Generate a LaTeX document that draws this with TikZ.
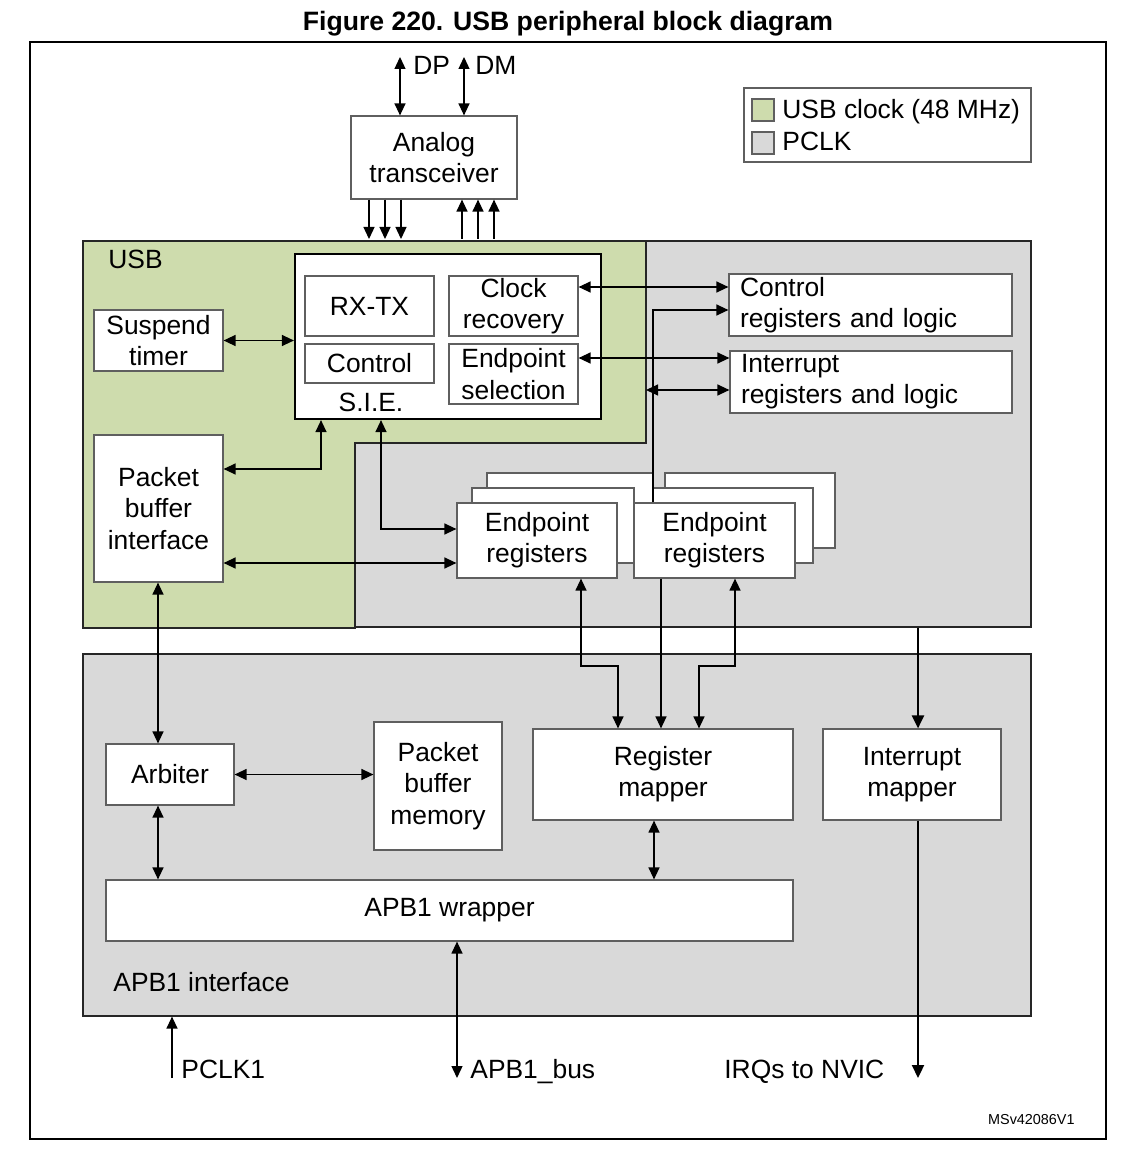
\documentclass[tikz,border=0pt]{standalone}
\usepackage{fontspec}
\setmainfont{Liberation Sans}
\usetikzlibrary{arrows.meta}
\definecolor{usbgreen}{RGB}{206,220,173}
\definecolor{pclkgray}{RGB}{217,217,217}
\definecolor{boxline}{RGB}{95,95,95}
\begin{document}
\begin{tikzpicture}[x=0.5pt,y=-0.5pt,
  every node/.style={font=\fontsize{13.2}{15.6}\selectfont, inner sep=0pt},
  wh/.style 2 args={minimum width=#1*0.5pt, minimum height=#2*0.5pt},
  box/.style={draw=boxline, line width=0.6pt, fill=white, align=center},
  region/.style={draw=black!85, line width=0.6pt, fill=pclkgray},
  lbl/.style={anchor=base west},
  conn/.style={draw=black, line width=0.65pt},
  dbl/.style={conn, {Triangle[length=6pt,width=5.5pt]}-{Triangle[length=6pt,width=5.5pt]}},
  one/.style={conn, -{Triangle[length=6pt,width=5.5pt]}},
  bold/.style={conn, line width=1.1pt, -{Triangle[length=6.5pt,width=6pt]}}
]
\useasboundingbox (0,0) rectangle (1143,1150);
\fill[white] (0,0) rectangle (1143,1150);

% title
\node[anchor=base, font=\fontsize{13.3}{15}\selectfont\bfseries] (title) at (568,31) {Figure 220. USB peripheral block diagram};

% outer frame
\draw[line width=1.1pt] (30,42) rectangle (1106,1139);

% regions
\node[region, wh={948}{386}] (usbreg) at (557,434) {};
\filldraw[fill=usbgreen, draw=black!85, line width=0.6pt] (83,241) -- (646,241) -- (646,443) -- (355,443) -- (355,628) -- (83,628) -- cycle;
\node[region, wh={948}{362}] (apbreg) at (557,835) {};
\coordinate (gedge) at (646,390);

% legend
\node[box, wh={287}{74}] (legend) at (887.5,125) {};
\node[draw=boxline, line width=0.6pt, fill=usbgreen, wh={22}{22}] (lgreen) at (763,110) {};
\node[draw=boxline, line width=0.6pt, fill=pclkgray, wh={22}{22}] (lgray) at (763,143) {};
\node[lbl] (lgtext) at (782,119) {USB clock (48 MHz)};
\node[lbl] (lptext) at (782,151) {PCLK};

% analog transceiver
\node[box, wh={166}{83}] (analog) at (434,157.5) {Analog\\transceiver};
\coordinate (dptop) at (400,57);
\coordinate (dmtop) at (464,57);
\node[lbl] (dp) at (413,75) {DP};
\node[lbl] (dm) at (475,75) {DM};
\draw[dbl] (dptop) -- (analog.north -| dptop);
\draw[dbl] (dmtop) -- (analog.north -| dmtop);
\foreach \xx in {369,385,401} {
  \coordinate (d\xx) at (\xx,239);
  \draw[one] (analog.south -| d\xx) -- (d\xx);
}
\foreach \xx in {462,478,494} {
  \coordinate (u\xx) at (\xx,239);
  \draw[one] (u\xx) -- (analog.south -| u\xx);
}

% USB block
\node[lbl] (usblbl) at (108,269) {USB};
\node[box, draw=black, line width=1.1pt, wh={306}{165}] (sie) at (448,336.5) {};
\node[box, wh={129}{60}] (rxtx) at (369.5,306) {RX-TX};
\node[box, wh={129}{39}] (ctrl) at (369.5,363.5) {Control};
\node[box, wh={129}{60}] (clk) at (513.5,306) {Clock\\recovery};
\node[box, wh={129}{60}] (eps) at (513.5,374) {Endpoint\\selection};
\node[anchor=base] (sielbl) at (371,411) {S.I.E.};
\node[box, wh={129}{61}] (suspend) at (158.5,340.5) {Suspend\\timer};
\node[box, wh={129}{147}] (pbi) at (158.5,508.5) {Packet\\buffer\\interface};

\node[box, wh={283}{62}, text width=130.5pt, align=left, inner xsep=5.5pt] (ctrlreg) at (870.5,305) {Control\\registers and logic};
\node[box, wh={282}{62}, text width=130pt, align=left, inner xsep=5.5pt] (intreg) at (871,382) {Interrupt\\registers and logic};

% endpoint register stacks
\node[box, wh={166}{75}] (ep1c) at (570,510.5) {};
\node[box, wh={162}{75}] (ep1b) at (553,525.5) {};
\node[box, wh={160}{75}] (ep1) at (537,540.5) {Endpoint\\registers};
\node[box, wh={170}{75}] (ep2c) at (750,510.5) {};
\node[box, wh={160}{75}] (ep2b) at (733,525.5) {};
\node[box, wh={161}{75}] (ep2) at (714.5,540.5) {Endpoint\\registers};

% APB1 block
\node[box, wh={128}{61}] (arbiter) at (170,774.5) {Arbiter};
\node[box, wh={128}{128}] (pbm) at (438,786) {Packet\\buffer\\memory};
\node[box, wh={260}{91}] (regmap) at (663,774.5) {Register\\mapper};
\node[box, wh={178}{91}] (intmap) at (912,774.5) {Interrupt\\mapper};
\node[box, wh={687}{61}] (wrapper) at (449.5,910.5) {APB1 wrapper};
\node[lbl] (apblbl) at (113,991) {APB1 interface};

% USB connectors
\draw[dbl] (suspend.east) -- (sie.west |- suspend.east);
\draw[dbl] (pbi.east |- 0,469) -| (sie.south -| 321,0);
\draw[dbl] (sie.south -| 381,0) |- (ep1.west |- 0,529);
\draw[dbl] (pbi.east |- 0,563) -- (ep1.west |- 0,563);
\draw[dbl] (clk.east |- 0,287) -- (ctrlreg.west |- 0,287);
\draw[dbl] (eps.east |- 0,358) -- (intreg.west |- 0,358);
\draw[dbl] (gedge) -- (intreg.west |- gedge);
\draw[one] (ep2.north -| 653,0) |- (ctrlreg.west |- 0,310);

\draw[dbl] (ep1.south -| 581,0) |- (618,666) -- (regmap.north -| 618,0);
\draw[one] (ep2.south -| 661,0) -- (regmap.north -| 661,0);
\draw[dbl] (ep2.south -| 735,0) |- (699,666) -- (regmap.north -| 699,0);

% APB1 connectors
\draw[dbl] (pbi.south -| 158,0) -- (arbiter.north -| 158,0);
\draw[dbl] (arbiter.east) -- (pbm.west |- arbiter.east);
\draw[dbl] (arbiter.south -| 158,0) -- (wrapper.north -| 158,0);
\draw[dbl] (regmap.south -| 654,0) -- (wrapper.north -| 654,0);
\draw[bold] (usbreg.south -| 918,0) -- (intmap.north -| 918,0);

% external signals
\coordinate (irqend) at (918,1078);
\coordinate (pclkstart) at (172,1078);
\coordinate (busend) at (457,1078);
\draw[bold] (intmap.south -| irqend) -- (irqend);
\draw[one] (pclkstart) -- (apbreg.south -| pclkstart);
\draw[dbl] (wrapper.south -| busend) -- (busend);
\node[lbl] (pclklbl) at (181,1078) {PCLK1};
\node[lbl] (buslbl) at (470,1078) {APB1\_bus};
\node[lbl] (irqlbl) at (724,1078) {IRQs to NVIC};
\node[anchor=base east, font=\fontsize{7.2}{8}\selectfont] (msv) at (1075,1124) {MSv42086V1};
\end{tikzpicture}
\end{document}
